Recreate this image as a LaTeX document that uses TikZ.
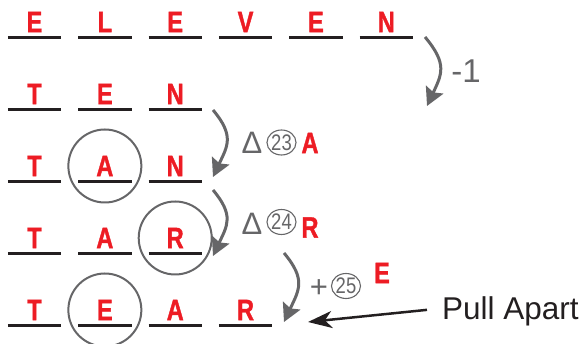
\documentclass[tikz,border=0pt]{standalone}
\usepackage{fontspec}
\setmainfont{Liberation Sans}
\newfontfamily\slotfont[FakeStretch=0.8,FakeBold=1.2]{Liberation Sans Bold}
\newfontfamily\numfont[FakeStretch=0.82]{Liberation Sans}
\usetikzlibrary{arrows.meta,shapes.geometric}
\definecolor{cluered}{RGB}{237,28,36}
\definecolor{hintgray}{RGB}{102,102,104}
\definecolor{inkblack}{RGB}{35,31,32}

\tikzstyle{letter}=[text=cluered,font=\slotfont\fontsize{29.5}{29.5}\selectfont,minimum width=53pt,minimum height=30pt,inner sep=0pt]
\tikzstyle{blank}=[draw=inkblack,line width=2.7pt]
\tikzstyle{ring}=[draw=hintgray,line width=2pt]
\tikzstyle{move}=[draw=hintgray,line width=3pt,-{Stealth[length=18pt,width=19pt,inset=3pt]}]
\tikzstyle{hint}=[text=hintgray,inner sep=0pt,font=\fontsize{31}{31}\selectfont]
\tikzstyle{circled}=[ellipse,draw=hintgray,line width=1.1pt,minimum width=28pt,minimum height=25pt,inner sep=0pt,text=hintgray,font=\numfont\fontsize{22.5}{22.5}\selectfont]
\tikzstyle{redhint}=[text=cluered,inner sep=0pt,font=\slotfont\fontsize{29.5}{29.5}\selectfont]
\tikzstyle{pointer}=[draw=inkblack,line width=2.5pt,-{Stealth[length=24pt,width=17pt,inset=7pt]}]

\begin{document}
\begin{tikzpicture}[x=1pt,y=1pt]
     \useasboundingbox (0,0) rectangle (588,344);
     \foreach \pos/\name/\lett in {{(34.5,322)/a1/E}, {(104.85,322)/a2/L},
       {(175.2,322)/a3/E}, {(245.55,322)/a4/V}, {(315.9,322)/a5/E}, {(386.25,322)/a6/N},
       {(34.5,250)/b1/T}, {(104.85,250)/b2/E}, {(175.2,250)/b3/N},
       {(34.5,178)/c1/T}, {(104.85,178)/c2/A}, {(175.2,178)/c3/N},
       {(34.5,106)/d1/T}, {(104.85,106)/d2/A}, {(175.2,106)/d3/R},
       {(34.5,34)/e1/T}, {(104.85,34)/e2/E}, {(175.2,34)/e3/A}, {(245.55,34)/e4/R}}
     \node[letter] (\name) at \pos {\lett};

     \foreach \name in {c2, d3, e2}
     \path[ring] (\name.center) circle (36.5pt);

     \foreach \name in {a1,a2,a3,a4,a5,a6,b1,b2,b3,c1,c2,c3,d1,d2,d3,e1,e2,e3,e4}
     \path[blank] (\name.south west) -- (\name.south east);

     \foreach \pos/\name in {{(425,307)/s1}, {(427,238)/t1}, {(213,234)/s2},
       {(213,167)/t2}, {(213,154)/s3}, {(213,88)/t3}, {(284,91)/s4}, {(284,22)/t4}}
     \path \pos coordinate (\name);

     \foreach \source/ \dest  in {s1/t1, s2/t2, s3/t3, s4/t4}
     \path[move] (\source) to[out=-50,in=65,looseness=1.3] (\dest);

     \node[hint,font=\fontsize{33}{33}\selectfont] (minus) at (466,273) {-1};

     \node[hint] (delta1) at (252,201) {Δ};
     \node[circled] (n23) at (281.5,201.5) {23};
     \node[redhint] (addA) at (310,201) {A};

     \node[hint] (delta2) at (252,120.5) {Δ};
     \node[circled] (n24) at (281.5,122) {24};
     \node[redhint] (addR) at (310,116.5) {R};

     \node[hint] (plus) at (319,55) {+};
     \node[circled] (n25) at (346,58) {25};
     \node[redhint] (addE) at (382,71) {E};

     \node[anchor=base west,inner sep=0pt,text=inkblack,font=\fontsize{31.5}{31.5}\selectfont] (pull) at (442,24) {Pull Apart};
     \coordinate (ptip) at (308,22);
     \path[pointer] ([xshift=-15pt,yshift=2pt]pull.west) -- (ptip);
   \end{tikzpicture}
\end{document}
